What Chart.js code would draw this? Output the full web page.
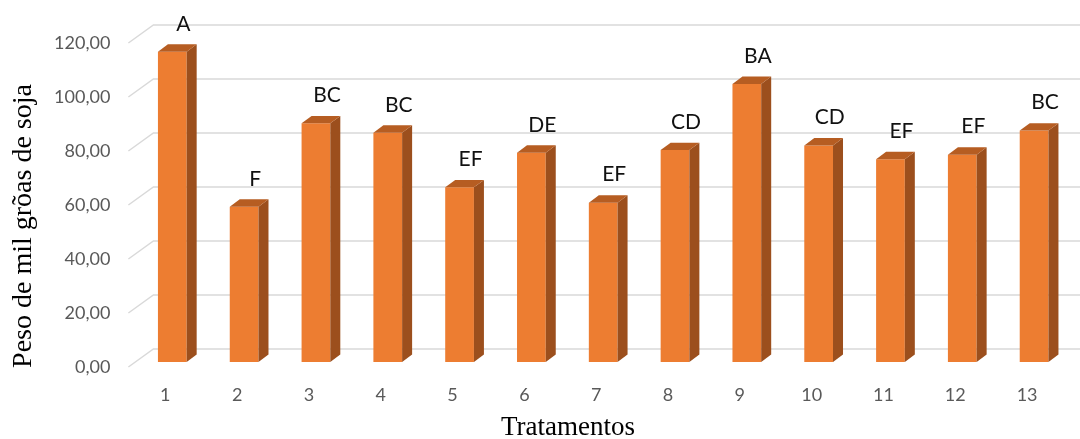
<!DOCTYPE html>
<html>
<head>
<meta charset="utf-8">
<script src="https://cdn.jsdelivr.net/npm/chart.js@4.4.0/dist/chart.umd.min.js"></script>
<style>
  html, body { margin: 0; padding: 0; background: #ffffff; }
  #wrap { width: 1080px; height: 439px; position: relative; }
</style>
</head>
<body>
<div id="wrap"><canvas id="chart" width="1080" height="439"></canvas></div>
<script>
// Treatments and mean thousand-grain weight
const tratamentos = ['1', '2', '3', '4', '5', '6', '7', '8', '9', '10', '11', '12', '13'];
const pesoMilGraos = [114.9, 57.5, 88.4, 84.9, 64.7, 77.5, 59.0, 78.5, 103.0, 80.2, 75.1, 76.8, 85.7];
const letrasTukey = ['A', 'F', 'BC', 'BC', 'EF', 'DE', 'EF', 'CD', 'BA', 'CD', 'EF', 'EF', 'BC'];
const yTicks = [0, 20, 40, 60, 80, 100, 120];

const tituloY = 'Peso de mil grõas de soja';
const tituloX = 'Tratamentos';

// 3D look: depth of the bars and of the back wall
const DEPTH_X = 10, DEPTH_Y = 7.4;
const WALL_BACK_X = 17, WALL_BACK_Y = 13;
const WALL_FRONT_X = -8, WALL_FRONT_Y = 5;

const fmt = v => v.toFixed(2).replace('.', ',');

const wallPlugin = {
  id: 'wall3d',
  beforeDatasetsDraw(chart) {
    const { ctx, chartArea, scales } = chart;
    const y = scales.y;
    ctx.save();
    ctx.strokeStyle = '#d9d9d9';
    ctx.lineWidth = 1.5;
    yTicks.forEach(v => {
      const py = y.getPixelForValue(v);
      ctx.beginPath();
      ctx.moveTo(chartArea.left + WALL_FRONT_X, py + WALL_FRONT_Y);
      ctx.lineTo(chartArea.left + WALL_BACK_X, py - WALL_BACK_Y);
      ctx.lineTo(chart.width, py - WALL_BACK_Y);
      ctx.stroke();
    });
    ctx.restore();
  },
  afterDatasetsDraw(chart) {
    const { ctx } = chart;
    const meta = chart.getDatasetMeta(0);
    ctx.save();
    meta.data.forEach((bar, i) => {
      const { x, y, base, width } = bar.getProps(['x', 'y', 'base', 'width'], true);
      const l = x - width / 2, r = x + width / 2;
      // side face
      ctx.fillStyle = '#9c4f1d';
      ctx.beginPath();
      ctx.moveTo(r, y);
      ctx.lineTo(r + DEPTH_X, y - DEPTH_Y);
      ctx.lineTo(r + DEPTH_X, base - DEPTH_Y);
      ctx.lineTo(r, base);
      ctx.closePath();
      ctx.fill();
      // top face
      ctx.fillStyle = '#b65d22';
      ctx.beginPath();
      ctx.moveTo(l, y);
      ctx.lineTo(l + DEPTH_X, y - DEPTH_Y);
      ctx.lineTo(r + DEPTH_X, y - DEPTH_Y);
      ctx.lineTo(r, y);
      ctx.closePath();
      ctx.fill();
      // significance letters
      ctx.fillStyle = '#111111';
      ctx.font = '21px Lato';
      ctx.textAlign = 'center';
      ctx.textBaseline = 'middle';
      ctx.fillText(letrasTukey[i], x + 11, y - 28);
    });
    ctx.restore();
  },
  afterDraw(chart) {
    const { ctx } = chart;
    ctx.save();
    ctx.fillStyle = '#000000';
    ctx.font = '27px "Liberation Serif"';
    ctx.textAlign = 'center';
    ctx.textBaseline = 'alphabetic';
    ctx.fillText(tituloX, 568, 435);
    ctx.font = '28px "Liberation Serif"';
    ctx.translate(31, 226);
    ctx.rotate(-Math.PI / 2);
    ctx.fillText(tituloY, 0, 0);
    ctx.restore();
  }
};

new Chart(document.getElementById('chart'), {
  type: 'bar',
  data: {
    labels: tratamentos,
    datasets: [{
      data: pesoMilGraos,
      backgroundColor: '#ed7d31',
      borderWidth: 0,
      barPercentage: 0.4,
      categoryPercentage: 1.0
    }]
  },
  options: {
    responsive: false,
    animation: false,
    events: [],
    layout: { padding: { top: 38, right: 10, bottom: 0, left: 0 } },
    plugins: {
      legend: { display: false },
      tooltip: { enabled: false }
    },
    scales: {
      x: {
        grid: { display: false, drawTicks: false },
        border: { display: false },
        ticks: {
          color: '#595959',
          font: { family: 'Lato', size: 18 },
          padding: 22,
          labelOffset: -7
        },
        afterFit(scale) { scale.height = 77; }
      },
      y: {
        min: 0,
        max: 120,
        grid: { display: false, drawTicks: false },
        border: { display: false },
        afterBuildTicks(scale) { scale.ticks = yTicks.map(v => ({ value: v })); },
        ticks: {
          color: '#595959',
          font: { family: 'Lato', size: 18 },
          padding: 26,
          labelOffset: 5,
          callback: v => fmt(v)
        },
        afterFit(scale) { scale.width = 136.4; }
      }
    }
  },
  plugins: [wallPlugin]
});
</script>
</body>
</html>
